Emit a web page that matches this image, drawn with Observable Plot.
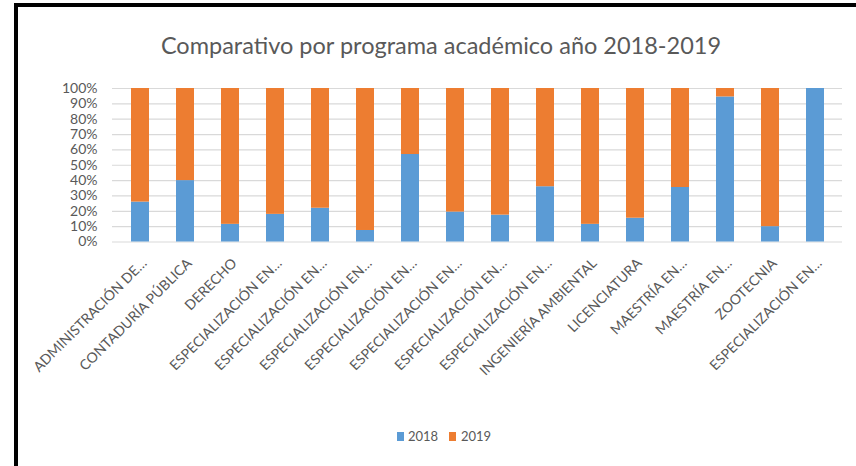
<!DOCTYPE html>
<html>
<head>
<meta charset="utf-8">
<script src="https://cdn.jsdelivr.net/npm/d3@7"></script>
<script src="https://cdn.jsdelivr.net/npm/@observablehq/plot@0.6"></script>
<style>
  body { margin: 0; background: #fff; font-family: Lato, "Open Sans", sans-serif; }
  #wrap { position: relative; width: 856px; height: 466px; overflow: hidden; background: #fff; }
  #bl { position: absolute; left: 14px; top: 3px; width: 4px; height: 463px; background: #000; }
  #bt { position: absolute; left: 14px; top: 3px; width: 842px; height: 4px; background: #000; }
  #title { position: absolute; left: 26px; width: 830px; top: 34px; text-align: center;
           font-size: 23.5px; color: #595959; line-height: 1; }
  #chart { position: absolute; left: 0; top: 0; }
  #legend { position: absolute; left: 0; top: 0; width: 856px; height: 466px; pointer-events: none; }
  .sw { position: absolute; width: 7px; height: 9px; top: 432px; }
  .lt { position: absolute; top: 428px; font-size: 13px; color: #595959; line-height: 16px; }
</style>
</head>
<body>
<div id="wrap">
  <div id="chart"></div>
  <div id="title">Comparativo por programa académico año 2018-2019</div>
  <div id="legend"></div>
  <div id="bl"></div>
  <div id="bt"></div>
</div>
<script>
const programs = [
  "ADMINISTRACIÓN DE…", "CONTADURÍA PÚBLICA", "DERECHO",
  "ESPECIALIZACIÓN EN…", "ESPECIALIZACIÓN EN…", "ESPECIALIZACIÓN EN…",
  "ESPECIALIZACIÓN EN…", "ESPECIALIZACIÓN EN…", "ESPECIALIZACIÓN EN…",
  "ESPECIALIZACIÓN EN…", "INGENIERÍA AMBIENTAL", "LICENCIATURA",
  "MAESTRÍA EN…", "MAESTRÍA EN…", "ZOOTECNIA", "ESPECIALIZACIÓN EN…"
];
const years = ["2018", "2019"];
const share2018 = [26, 40, 11.5, 18, 22, 7.5, 57, 19.5, 17.5, 36, 11.5, 15.5, 35.5, 94.5, 10, 100];
const share2019 = [74, 60, 88.5, 82, 78, 92.5, 43, 80.5, 82.5, 64, 88.5, 84.5, 64.5, 5.5, 90, 0];
const yTicks = [0, 0.1, 0.2, 0.3, 0.4, 0.5, 0.6, 0.7, 0.8, 0.9, 1];
const colors = ["#5B9BD5", "#ED7D31"];

const rows = [];
programs.forEach((p, i) => rows.push({i, year: "2018", value: share2018[i]}));
programs.forEach((p, i) => rows.push({i, year: "2019", value: share2019[i]}));

const textColor = "#595959";
const chart = Plot.plot({
  width: 856,
  height: 420,
  marginTop: 88,
  marginBottom: 178.5,
  marginLeft: 112,
  marginRight: 14,
  style: {fontFamily: "Lato, 'Open Sans', sans-serif", background: "transparent", color: textColor},
  x: {type: "band", domain: d3.range(programs.length), paddingInner: 0.6, paddingOuter: 0.3, axis: null},
  y: {domain: [0, 1], axis: null},
  color: {domain: years, range: colors},
  marks: [
    Plot.ruleY(yTicks, {stroke: "#d9d9d9", strokeWidth: 1.2}),
    Plot.barY(rows, {x: "i", y: "value", fill: "year", offset: "normalize"}),
    Plot.axisY(yTicks, {tickSize: 0, tickPadding: 15, tickFormat: d3.format(".0%"), fontSize: 14, fill: textColor, label: null}),
    Plot.axisX({tickRotate: -45, tickSize: 0, tickPadding: 19, dx: 4, tickFormat: i => programs[i], fontSize: 14, fill: textColor, label: null})
  ]
});
document.getElementById("chart").appendChild(chart);

const leg = document.getElementById("legend");
const swX = [397, 449], txX = [408, 461];
years.forEach((y, k) => {
  const s = document.createElement("div");
  s.className = "sw"; s.style.left = swX[k] + "px"; s.style.background = colors[k];
  leg.appendChild(s);
  const t = document.createElement("div");
  t.className = "lt"; t.style.left = txX[k] + "px"; t.textContent = y;
  leg.appendChild(t);
});
</script>
</body>
</html>
